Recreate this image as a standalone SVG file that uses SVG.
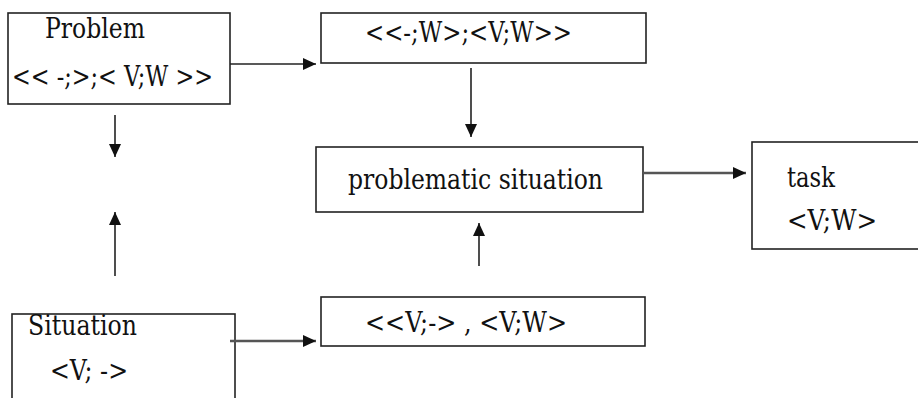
<svg xmlns="http://www.w3.org/2000/svg" width="918" height="398" viewBox="0 0 918 398">
<style>
.box{fill:#fff;stroke:#222;stroke-width:1.6}
.c{fill:none;stroke:#222;stroke-width:1.6}
.c2{fill:none;stroke:#555;stroke-width:2.4}
text{font-family:"DejaVu Serif","Liberation Serif",serif;font-size:27px;fill:#111}
</style>
<defs>
<marker id="ah" markerUnits="userSpaceOnUse" markerWidth="14" markerHeight="12" refX="13" refY="6" orient="auto">
<path d="M0,0 L13,6 L0,12 z" fill="#111"/>
</marker>
</defs>
<rect width="918" height="398" fill="#fff"/>
<g id="problem">
<rect class="box" x="8" y="13" width="222" height="91"/>
<text x="45" y="38" textLength="100" lengthAdjust="spacingAndGlyphs">Problem</text>
<text x="12" y="86" textLength="201" lengthAdjust="spacingAndGlyphs">&lt;&lt; -;&gt;;&lt; V;W &gt;&gt;</text>
</g>
<g id="top">
<rect class="box" x="321" y="13" width="325" height="50"/>
<text x="365" y="42" textLength="207" lengthAdjust="spacingAndGlyphs">&lt;&lt;-;W&gt;;&lt;V;W&gt;&gt;</text>
</g>
<g id="problematic">
<rect class="box" x="316" y="147" width="327" height="65"/>
<text x="348" y="189" textLength="255" lengthAdjust="spacingAndGlyphs">problematic situation</text>
</g>
<g id="task">
<rect class="box" x="752" y="142" width="180" height="107"/>
<text x="787" y="187" textLength="48" lengthAdjust="spacingAndGlyphs">task</text>
<text x="787" y="230" textLength="90" lengthAdjust="spacingAndGlyphs">&lt;V;W&gt;</text>
</g>
<g id="situation">
<rect class="box" x="12" y="314" width="223" height="100"/>
<text x="28" y="335" textLength="109" lengthAdjust="spacingAndGlyphs">Situation</text>
<text x="50" y="380" textLength="78" lengthAdjust="spacingAndGlyphs">&lt;V; -&gt;</text>
</g>
<g id="bottom">
<rect class="box" x="321" y="297" width="324" height="49"/>
<text x="365" y="332" textLength="202" lengthAdjust="spacingAndGlyphs">&lt;&lt;V;-&gt; , &lt;V;W&gt;</text>
</g>
<g id="connectors">
<line class="c" x1="230" y1="64" x2="316" y2="64" marker-end="url(#ah)"/>
<line class="c" x1="115" y1="115" x2="115" y2="157" marker-end="url(#ah)"/>
<line class="c" x1="115" y1="276" x2="115" y2="212" marker-end="url(#ah)"/>
<line class="c" x1="471" y1="68" x2="471" y2="137" marker-end="url(#ah)"/>
<line class="c" x1="479" y1="266" x2="479" y2="223" marker-end="url(#ah)"/>
<line class="c2" x1="643" y1="173" x2="746" y2="173" marker-end="url(#ah)"/>
<line class="c2" x1="230" y1="341" x2="316" y2="341" marker-end="url(#ah)"/>
</g>
</svg>
